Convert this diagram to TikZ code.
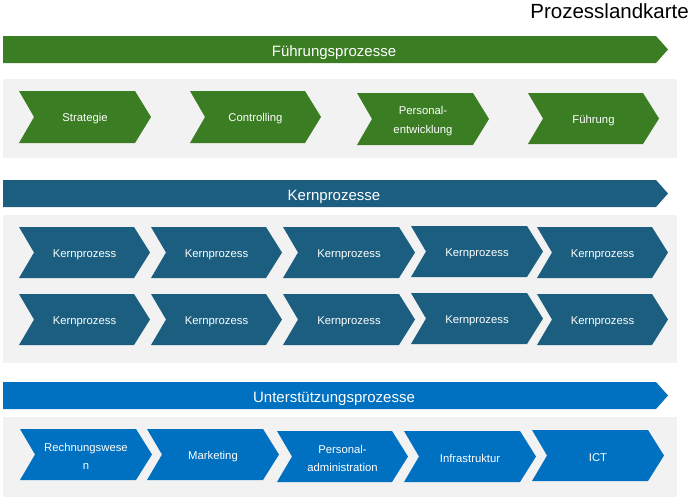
\documentclass[tikz,border=0pt]{standalone}
\usepackage{fontspec}
\setmainfont{Liberation Sans}
\definecolor{fgreen}{HTML}{3B7D23}
\definecolor{kteal}{HTML}{1B5E7F}
\definecolor{ublue}{HTML}{0070C0}
\definecolor{panel}{HTML}{F2F2F2}
\newcommand\mychev[7]{%
  \fill[#6] (#2,#3) -- (#4-16,#3) -- (#4,{(#3+#5)/2}) -- (#4-16,#5) -- (#2,#5) -- (#2+15,{(#3+#5)/2}) -- cycle;
  \node[chevlbl] (#1) at ({(#2+#4)/2},{(#3+#5)/2}) {#7};
}
\newcommand\mybanner[5]{%
  \fill[#5] (3,#2) -- (656,#2) -- (668,{(#2+#3)/2}) -- (656,#3) -- (3,#3) -- cycle;
  \node[bannerlbl] (#1) at (334,{(#2+#3)/2}) {#4};
}
\begin{document}
\begin{tikzpicture}[x=1pt,y=-1pt,
  chevlbl/.style={text=white,align=center,inner sep=0pt,yshift=-2pt,font=\fontsize{11.3}{18.5}\selectfont},
  bannerlbl/.style={text=white,inner sep=0pt,yshift=-3pt,font=\fontsize{15}{18}\selectfont},
  titlelbl/.style={text=black,inner sep=0pt,font=\fontsize{20.5}{24}\selectfont},
  panelbox/.style={fill=panel}]
\useasboundingbox[fill=white] (0,0) rectangle (692,499);
% title
\node[titlelbl,anchor=base east] (title) at (689,18) {Prozesslandkarte};
% Führungsprozesse
\mybanner{fbanner}{36}{63}{Führungsprozesse}{fgreen}
\fill[panelbox] (3,79) rectangle (677,158);
\mychev{f1}{19}{91}{151}{143}{fgreen}{Strategie}
\mychev{f2}{190}{91}{321}{143}{fgreen}{Controlling}
\mychev{f3}{357}{93}{489}{145}{fgreen}{Personal-\\entwicklung}
\mychev{f4}{528}{93}{659}{144}{fgreen}{Führung}
% Kernprozesse
\mybanner{kbanner}{180}{207}{Kernprozesse}{kteal}
\fill[panelbox] (3,215) rectangle (677,363);
\mychev{k11}{19}{227}{150}{278}{kteal}{Kernprozess}
\mychev{k12}{151}{227}{282}{278}{kteal}{Kernprozess}
\mychev{k13}{283}{227}{415}{278}{kteal}{Kernprozess}
\mychev{k14}{411}{226}{543}{277}{kteal}{Kernprozess}
\mychev{k15}{537}{227}{668}{278}{kteal}{Kernprozess}
\mychev{k21}{19}{294}{150}{345}{kteal}{Kernprozess}
\mychev{k22}{151}{294}{282}{345}{kteal}{Kernprozess}
\mychev{k23}{283}{294}{415}{345}{kteal}{Kernprozess}
\mychev{k24}{411}{293}{543}{344}{kteal}{Kernprozess}
\mychev{k25}{537}{294}{668}{345}{kteal}{Kernprozess}
% Unterstützungsprozesse
\mybanner{ubanner}{382}{409}{Unterstützungsprozesse}{ublue}
\fill[panelbox] (3,417) rectangle (677,497);
\mychev{u1}{20}{429}{152}{480}{ublue}{Rechnungswese\\n}
\mychev{u2}{147}{429}{279}{480}{ublue}{Marketing}
\mychev{u3}{277}{431}{408}{482}{ublue}{Personal-\\administration}
\mychev{u4}{404}{431}{536}{482}{ublue}{Infrastruktur}
\mychev{u5}{532}{430}{664}{481}{ublue}{ICT}
\end{tikzpicture}
\end{document}
